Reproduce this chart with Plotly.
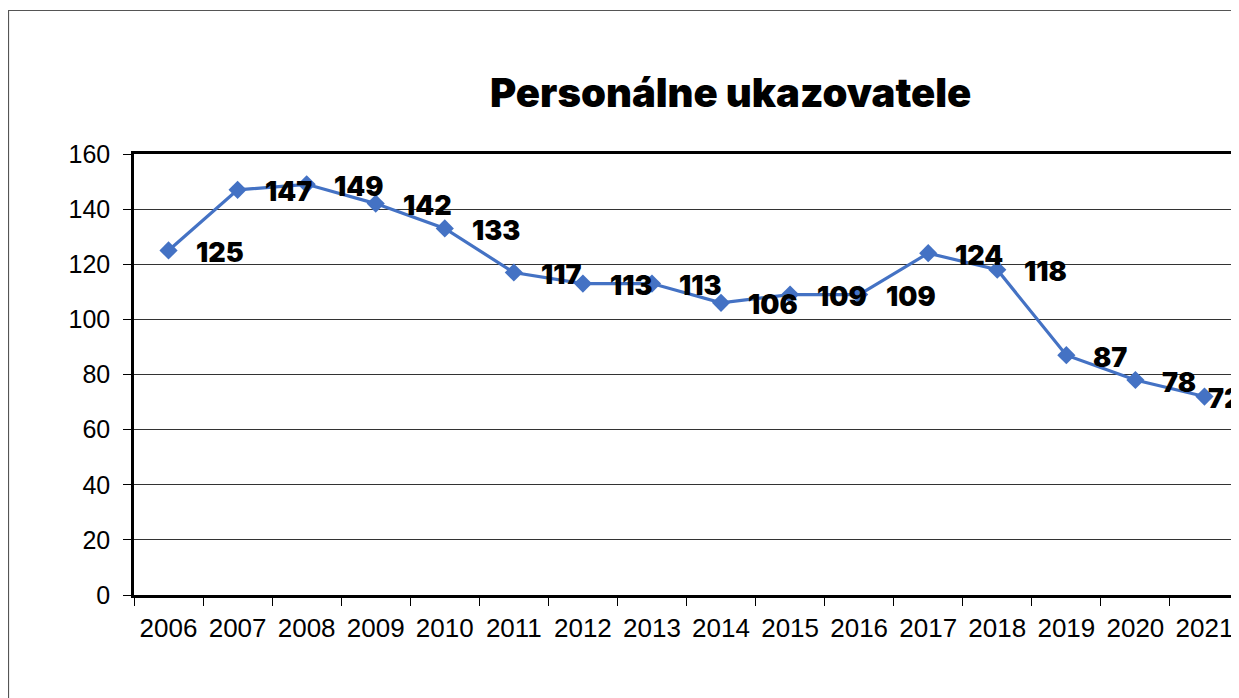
import plotly.graph_objects as go

years = ["2006", "2007", "2008", "2009", "2010", "2011", "2012", "2013",
         "2014", "2015", "2016", "2017", "2018", "2019", "2020", "2021"]
values = [125, 147, 149, 142, 133, 117, 113, 113, 106, 109, 109, 124, 118, 87, 78, 72]
title_text = "Personálne ukazovatele"
y_ticks = [0, 20, 40, 60, 80, 100, 120, 140, 160]

W, H = 1231, 690
L, R, T, B = 126, 0, 146, 103
pw, ph = W - L - R, H - T - B

fig = go.Figure()
fig.add_trace(go.Scatter(
    x=years, y=values, mode="lines+markers",
    line=dict(color="#4472C4", width=3.2),
    marker=dict(symbol="diamond", size=14, color="#4472C4"),
    hoverinfo="skip", showlegend=False, cliponaxis=False,
))

n = len(values)
for i, v in enumerate(values):
    last = (i == n - 1)
    fig.add_annotation(
        x=i, y=v, xref="x", yref="y", text=str(v), showarrow=False,
        xanchor="left", yanchor="middle", xshift=2 if last else 25, yshift=-2,
        font=dict(family="Inter, Liberation Sans, sans-serif", size=27,
                  color="black", weight=900),
    )

fig.add_annotation(
    xref="paper", yref="paper", x=(722 - L) / pw, y=(H - B - 84) / ph,
    text=title_text, showarrow=False, xanchor="center", yanchor="middle",
    font=dict(family="Inter, Liberation Sans, sans-serif", size=40,
              color="black", weight=900),
)

# outer chart border
fig.add_shape(type="rect", xref="paper", yref="paper",
              x0=(0.5 - L) / pw, x1=1.3, y0=-0.6, y1=(H - B - 2.5) / ph,
              line=dict(color="#555555", width=1.2), layer="below")

fig.update_xaxes(
    type="category", range=[-0.5, 15.5],
    showline=True, linecolor="black", linewidth=2.5, mirror=True,
    ticks="outside", tickson="boundaries", ticklen=8, tickcolor="black", tickwidth=1.2,
    tickfont=dict(family="Liberation Sans, Arial, sans-serif", size=26, color="black"),
    ticklabelstandoff=8,
    showgrid=False, fixedrange=True,
)
fig.update_yaxes(
    range=[0, 160], tickvals=y_ticks,
    showline=True, linecolor="black", linewidth=2.5,
    ticks="outside", ticklen=8, tickcolor="black", tickwidth=1.2,
    showgrid=True, gridcolor="#333333", gridwidth=1,
    tickfont=dict(family="Liberation Sans, Arial, sans-serif", size=25, color="black"),
    ticklabelstandoff=8,
    zeroline=False, fixedrange=True,
)

fig.update_layout(
    width=W, height=H,
    margin=dict(l=L, r=R, t=T, b=B),
    paper_bgcolor="white", plot_bgcolor="white",
)

fig.write_html("out.html")
